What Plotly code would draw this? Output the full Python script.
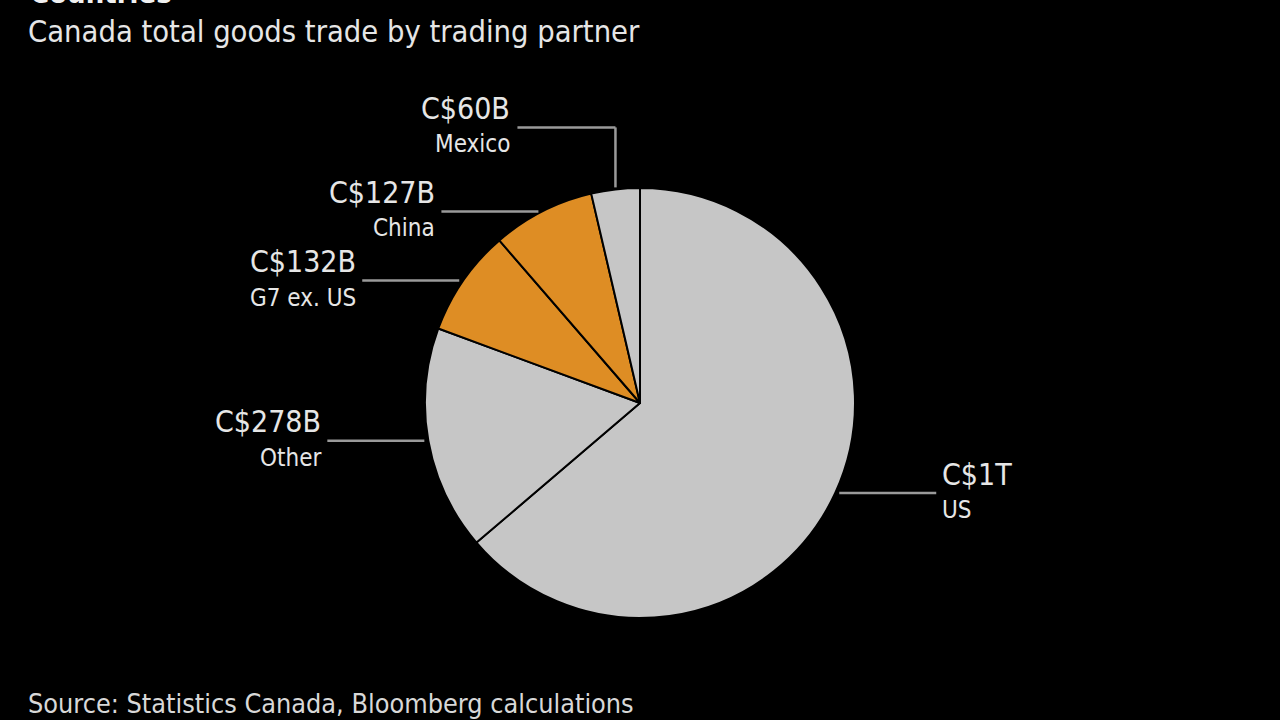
import math
import plotly.graph_objects as go

# ---- data ----
partners = ["US", "Other", "G7 ex. US", "China", "Mexico"]
values = [1050, 278, 132, 127, 60]
value_labels = ["C$1T", "C$278B", "C$132B", "C$127B", "C$60B"]
colors = ["#c6c6c6", "#c6c6c6", "#de8d24", "#de8d24", "#c6c6c6"]

title = "Countries"
subtitle = "Canada total goods trade by trading partner"
source = "Source: Statistics Canada, Bloomberg calculations"

W, H = 1280, 720
CX, CY, R = 640, 403, 215
FONT = "DejaVu Sans Condensed, DejaVu Sans, Liberation Sans Narrow, sans-serif"
TXT = "#e6e6e6"
LINE = "#9a9a9a"

fig = go.Figure(go.Pie(
    labels=partners, values=values, sort=False, direction="clockwise",
    rotation=0, textinfo="none", hoverinfo="label+value",
    marker=dict(colors=colors, line=dict(color="#000000", width=2)),
    domain=dict(x=[(CX - R) / W, (CX + R) / W],
                y=[(H - CY - R) / H, (H - CY + R) / H]),
    showlegend=False,
))

def px(x):
    return x / W

def py(y):
    return 1 - y / H

shapes, annots = [], []
total = sum(values)
acc = 0.0
for name, v, lab in zip(partners, values, value_labels):
    mid = (acc + v / 2) / total * 2 * math.pi
    acc += v
    ex = CX + R * math.sin(mid)
    ey = CY - R * math.cos(mid)
    if ey < CY - 0.97 * R:
        # elbow leader going up then left
        top = ey - 62
        shapes.append(dict(type="line", xref="paper", yref="paper",
                           x0=px(ex), y0=py(ey - 2), x1=px(ex), y1=py(top),
                           line=dict(color=LINE, width=2.5)))
        shapes.append(dict(type="line", xref="paper", yref="paper",
                           x0=px(ex), y0=py(top), x1=px(ex - 98), y1=py(top),
                           line=dict(color=LINE, width=2.5)))
        tx, ty, anchor = ex - 103, top, "right"
    elif ex < CX:
        x1 = ex - 4
        x0 = x1 - 97
        shapes.append(dict(type="line", xref="paper", yref="paper",
                           x0=px(x0), y0=py(ey), x1=px(x1), y1=py(ey),
                           line=dict(color=LINE, width=2.5)))
        tx, ty, anchor = x0 - 4, ey, "right"
    else:
        x0 = ex + 4
        x1 = x0 + 97
        shapes.append(dict(type="line", xref="paper", yref="paper",
                           x0=px(x0), y0=py(ey), x1=px(x1), y1=py(ey),
                           line=dict(color=LINE, width=2.5)))
        tx, ty, anchor = x1 + 4, ey, "left"
    annots.append(dict(text=lab, xref="paper", yref="paper", x=px(tx), y=py(ty - 19),
                       xanchor=anchor, yanchor="middle", showarrow=False,
                       font=dict(family=FONT, size=30, color=TXT)))
    annots.append(dict(text=name, xref="paper", yref="paper", x=px(tx), y=py(ty + 17),
                       xanchor=anchor, yanchor="middle", showarrow=False,
                       font=dict(family=FONT, size=24, color=TXT)))

annots.append(dict(text="<b>" + title + "</b>", xref="paper", yref="paper",
                   x=px(28), y=py(12), xanchor="left", yanchor="bottom", showarrow=False,
                   font=dict(family=FONT, size=29, color="#f0f0f0")))
annots.append(dict(text=subtitle, xref="paper", yref="paper",
                   x=px(26), y=py(32), xanchor="left", yanchor="middle", showarrow=False,
                   font=dict(family=FONT, size=30.6, color=TXT)))
annots.append(dict(text=source, xref="paper", yref="paper",
                   x=px(26), y=py(703), xanchor="left", yanchor="middle", showarrow=False,
                   font=dict(family=FONT, size=26.8, color="#d8d8d8")))

fig.update_layout(
    width=W, height=H, margin=dict(l=0, r=0, t=0, b=0),
    paper_bgcolor="#000000", plot_bgcolor="#000000",
    shapes=shapes, annotations=annots,
)

fig.write_html(
    "out.html",
    config={"displayModeBar": False},
    post_script="document.body.style.margin='0';document.body.style.background='#000';"
                "document.body.style.overflow='hidden';",
)
